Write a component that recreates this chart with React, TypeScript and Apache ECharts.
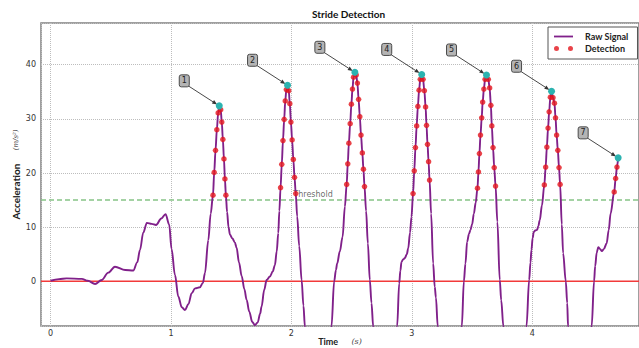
import React, { useEffect, useRef } from "react";
import * as echarts from "echarts";

// Raw acceleration signal: [time (s), acceleration (m/s^2)]
const rawSignal: [number, number][] = [
  [0.0, 0.1], [0.07, 0.4], [0.134, 0.55], [0.26, 0.45], [0.31, 0.1], [0.37, -0.5], [0.425, 0.24],
  [0.48, 1.6], [0.535, 2.7], [0.62, 2.1], [0.687, 2.0], [0.72, 3.5], [0.743, 5.8], [0.77, 9.0],
  [0.8, 10.8], [0.84, 10.6], [0.876, 10.4], [0.92, 11.6], [0.955, 12.4], [0.985, 10.5], [1.005, 6.0],
  [1.033, 1.2], [1.061, -2.8], [1.09, -4.8], [1.116, -5.3], [1.145, -4.2], [1.172, -2.2], [1.2, -1.3],
  [1.24, -1.1], [1.265, -0.3], [1.282, 1.5], [1.31, 7.6], [1.33, 12.5],
  // stride 1
  [1.349, 15.9], [1.359, 20.1], [1.37, 24.2], [1.381, 28.0], [1.392, 31.1], [1.401, 32.4],
  [1.413, 31.7], [1.422, 29.4], [1.431, 26.2], [1.44, 22.6], [1.448, 18.9], [1.456, 15.9],
  [1.466, 12.8], [1.478, 10.0], [1.49, 8.6], [1.51, 7.9], [1.53, 7.2], [1.545, 6.2], [1.565, 3.5],
  [1.587, 1.0], [1.61, -1.5], [1.628, -3.4], [1.65, -5.6], [1.675, -7.5], [1.697, -8.1], [1.72, -7.6],
  [1.74, -6.0], [1.752, -4.7], [1.775, -1.5], [1.794, 0.24], [1.822, 0.9], [1.845, 1.8], [1.863, 3.0],
  [1.878, 5.5], [1.891, 8.9], [1.9, 13.0],
  // stride 2
  [1.91, 17.3], [1.92, 21.6], [1.93, 26.0], [1.94, 29.9], [1.949, 33.3], [1.958, 35.4], [1.968, 36.2],
  [1.978, 35.2], [1.987, 32.8], [1.996, 29.4], [2.006, 26.1], [2.016, 22.5], [2.026, 19.2], [2.036, 16.2],
  [2.048, 12.0], [2.065, 6.5], [2.085, 0.2], [2.1, -4.5], [2.112, -8.3], [2.13, -13.0], [2.22, -17.0],
  [2.31, -15.0], [2.333, -8.25], [2.355, 0.0], [2.37, 2.1], [2.38, 3.3], [2.402, 5.5], [2.425, 8.2],
  [2.444, 13.8],
  // stride 3
  [2.459, 17.9], [2.468, 21.7], [2.477, 25.5], [2.488, 29.1], [2.498, 32.7], [2.507, 35.5], [2.516, 37.7],
  [2.527, 38.6], [2.538, 38.1], [2.548, 36.6], [2.558, 33.6], [2.568, 30.4], [2.578, 27.0], [2.589, 23.7],
  [2.598, 20.7], [2.607, 17.5],
  [2.62, 13.0], [2.635, 7.0], [2.651, 0.24], [2.665, -4.0], [2.679, -8.3], [2.7, -14.0], [2.8, -18.0],
  [2.86, -14.0], [2.878, -8.25], [2.895, -0.4], [2.905, 2.0], [2.914, 3.6], [2.93, 4.1], [2.942, 4.3],
  [2.958, 5.0], [2.97, 6.1], [2.985, 9.0], [2.997, 11.9],
  // stride 4
  [3.01, 16.2], [3.02, 20.4], [3.03, 24.7], [3.04, 28.7], [3.05, 32.3], [3.06, 35.3], [3.07, 37.3],
  [3.082, 38.2], [3.093, 37.3], [3.104, 35.2], [3.114, 32.2], [3.122, 28.8], [3.13, 25.3], [3.139, 22.1],
  [3.147, 18.7],
  [3.16, 12.5], [3.177, 3.3], [3.19, -1.0], [3.2, -3.0], [3.215, -8.3], [3.24, -15.0], [3.33, -18.0],
  [3.39, -14.0], [3.415, -8.25], [3.432, 0.0], [3.445, 3.3], [3.459, 7.3], [3.475, 8.8], [3.487, 9.5],
  [3.5, 10.5], [3.515, 12.5], [3.53, 14.5],
  // stride 5
  [3.545, 17.2], [3.553, 20.2], [3.561, 23.6], [3.57, 27.0], [3.58, 30.2], [3.588, 33.1], [3.598, 35.5],
  [3.608, 37.3], [3.62, 38.1], [3.635, 37.3], [3.646, 35.7], [3.656, 32.5], [3.664, 28.7], [3.674, 24.7],
  [3.684, 21.0], [3.695, 17.6],
  [3.71, 11.0], [3.73, 0.24], [3.742, -3.5], [3.76, -8.3], [3.78, -15.0], [3.87, -18.0], [3.93, -14.0],
  [3.952, -8.25], [3.974, 0.24], [3.985, 3.5], [3.993, 5.8], [4.003, 8.0], [4.012, 9.1], [4.025, 9.4],
  [4.04, 9.5], [4.05, 10.2], [4.062, 11.3], [4.08, 14.0],
  // stride 6
  [4.1, 17.8], [4.111, 21.1], [4.121, 24.8], [4.131, 28.3], [4.14, 31.3], [4.15, 34.0], [4.16, 35.1],
  [4.172, 33.9], [4.184, 32.9], [4.193, 30.2], [4.202, 27.0], [4.212, 24.2], [4.222, 21.0], [4.231, 17.9],
  [4.245, 10.5], [4.256, 5.2], [4.278, 0.0], [4.29, -4.0], [4.297, -8.3], [4.32, -15.0], [4.41, -18.0],
  [4.47, -14.0], [4.493, -8.25], [4.513, 0.0], [4.522, 2.8], [4.535, 5.3], [4.548, 6.3], [4.562, 6.0],
  [4.578, 5.6], [4.595, 6.0], [4.617, 7.0], [4.635, 9.5], [4.65, 12.5],
  // stride 7
  [4.68, 16.5], [4.692, 19.0], [4.703, 21.1], [4.713, 22.8],
];

const THRESHOLD = 15;
const ZERO_LEVEL = 0;
const peakLabels = ["1", "2", "3", "4", "5", "6", "7"];
const xRange = [-0.079, 4.886];
const yRange = [-8.25, 47.7];

// Detection: all samples above threshold; peaks: max of each run above threshold
const detection = rawSignal.filter((p) => p[1] > THRESHOLD);
const peaks: [number, number][] = [];
{
  let best: [number, number] | null = null;
  for (const p of rawSignal) {
    if (p[1] > THRESHOLD) {
      if (!best || p[1] > best[1]) best = p;
    } else if (best) {
      peaks.push(best);
      best = null;
    }
  }
  if (best) peaks.push(best);
}
// horizontal reference lines spanning the whole x range
const zeroLine = xRange.map((x) => [x, ZERO_LEVEL]);
const thresholdLine = xRange.map((x) => [x, THRESHOLD]);

const PURPLE = "#80208a";
const RED = "#e3141b";
const TEAL = "#2bb3b0";
const ZERO_RED = "#f23a3a";

export default function App() {
  const ref = useRef<HTMLDivElement>(null);
  useEffect(() => {
    if (!ref.current) return;
    const chart = echarts.init(ref.current, null, { renderer: "svg" });
    chart.setOption({
      animation: false,
      backgroundColor: "#fff",
      title: {
        text: "Stride Detection",
        left: 307,
        top: 4,
        textStyle: { fontFamily: "Lato", fontWeight: "bold", fontSize: 10, color: "#111" },
      },
      legend: {
        orient: "vertical",
        left: 548,
        top: 27,
        padding: [5, 9, 6, 6],
        itemGap: 3,
        itemWidth: 19,
        itemHeight: 6,
        symbolKeepAspect: true,
        borderColor: "#555",
        borderWidth: 1,
        backgroundColor: "#fff",
        textStyle: { fontFamily: "Lato", fontWeight: "bold", fontSize: 9, color: "#222", padding: [0, 0, 0, 7] },
        data: [
          { name: "Raw Signal", icon: "path://M0,0h19v1.8h-19z", itemStyle: { color: PURPLE } },
          { name: "Detection", icon: "path://M0,2.5a2.5,2.5 0 1,0 5,0a2.5,2.5 0 1,0 -5,0zM14,2.5a2.5,2.5 0 1,0 5,0a2.5,2.5 0 1,0 -5,0z" },
        ],
      },
      grid: {
        left: 41,
        top: 23,
        right: 0,
        bottom: 22,
        show: true,
        borderColor: "#808080",
        borderWidth: 1.5,
        outerBoundsMode: "none",
      },
      xAxis: {
        type: "value",
        min: xRange[0],
        max: xRange[1],
        name: "{b|Time}    {i|(s)}",
        nameLocation: "middle",
        nameGap: 9,
        nameMoveOverlap: false,
        nameTextStyle: {
          rich: {
            b: { fontFamily: "Lato", fontWeight: "bold", fontSize: 9, color: "#222" },
            i: { fontFamily: "DejaVu Serif", fontStyle: "italic", fontSize: 8, color: "#444" },
          },
        },
        axisLine: { show: false, onZero: false, lineStyle: { color: "rgba(0,0,0,0)" } },
        axisTick: { show: false },
        axisLabel: {
          showMinLabel: false,
          showMaxLabel: false,
          margin: 3,
          fontFamily: "DejaVu Sans",
          fontSize: 8,
          color: "#333",
        },
        splitLine: { show: true, lineStyle: { type: "dotted", color: "#bdbdbd", width: 1 } },
      },
      yAxis: {
        type: "value",
        min: yRange[0],
        max: yRange[1],
        name: "{b|Acceleration}    {u|(m/s²)}",
        nameLocation: "middle",
        nameGap: 19,
        nameMoveOverlap: false,
        nameTextStyle: {
          rich: {
            b: { fontFamily: "Lato", fontWeight: "bold", fontSize: 10, color: "#222" },
            u: { fontFamily: "DejaVu Serif", fontStyle: "italic", fontSize: 7, color: "#444" },
          },
        },
        axisLine: { show: false, onZero: false, lineStyle: { color: "rgba(0,0,0,0)" } },
        axisTick: { show: false },
        axisLabel: {
          showMinLabel: false,
          showMaxLabel: false,
          margin: 5,
          fontFamily: "DejaVu Sans",
          fontSize: 8,
          color: "#333",
        },
        splitLine: { show: true, lineStyle: { type: "dotted", color: "#bdbdbd", width: 1 } },
      },
      series: [
        {
          name: "zeroLine",
          type: "line",
          data: zeroLine,
          symbol: "none",
          silent: true,
          lineStyle: { color: ZERO_RED, width: 1.4, type: "solid" },
          itemStyle: { color: ZERO_RED },
          z: 2,
        },
        {
          name: "thresholdLine",
          type: "line",
          data: thresholdLine,
          symbol: "none",
          silent: true,
          lineStyle: { color: "#86c486", width: 1.5, type: [5, 3] },
          itemStyle: { color: "#86c486" },
          z: 2,
        },
        {
          name: "Raw Signal",
          type: "line",
          data: rawSignal,
          symbol: "none",
          smooth: 0.35,
          smoothMonotone: "x",
          clip: true,
          lineStyle: { color: PURPLE, width: 1.9 },
          itemStyle: { color: PURPLE },
          z: 3,
        },
        {
          name: "thresholdLabel",
          type: "scatter",
          data: [[2.18, THRESHOLD]],
          symbolSize: 1,
          itemStyle: { color: "rgba(0,0,0,0)" },
          silent: true,
          label: {
            show: true,
            position: "top",
            distance: 1,
            formatter: "Threshold",
            fontFamily: "DejaVu Sans",
            fontSize: 8,
            color: "#444",
          },
          z: 2,
        },
        {
          name: "Detection",
          type: "scatter",
          data: detection,
          symbol: "circle",
          symbolSize: 5.5,
          itemStyle: { color: RED },
          z: 4,
        },
        {
          name: "Peaks",
          type: "custom",
          data: peaks,
          encode: { x: 0, y: 1 },
          clip: false,
          z: 5,
          renderItem: (params: any, api: any) => {
            const p = api.coord([api.value(0), api.value(1)]);
            const bx = p[0] - 35;
            const by = p[1] - 25;
            const sx = bx + 4;
            const sy = by + 5;
            const dx = p[0] - sx;
            const dy = p[1] - sy;
            const len = Math.sqrt(dx * dx + dy * dy);
            const ux = dx / len;
            const uy = dy / len;
            const tip = [p[0] - ux * 2.5, p[1] - uy * 2.5];
            const base = [tip[0] - ux * 5, tip[1] - uy * 5];
            const b1 = [base[0] - uy * 2, base[1] + ux * 2];
            const b2 = [base[0] + uy * 2, base[1] - ux * 2];
            return {
              type: "group",
              children: [
                {
                  type: "line",
                  shape: { x1: sx, y1: sy, x2: base[0], y2: base[1] },
                  style: { stroke: "#333", lineWidth: 0.9 },
                },
                {
                  type: "polygon",
                  shape: { points: [tip, b1, b2] },
                  style: { fill: "#333" },
                },
                {
                  type: "rect",
                  shape: { x: bx - 5, y: by - 6, width: 10, height: 12, r: 2 },
                  style: { fill: "#b4b4b4", stroke: "#4a4a4a", lineWidth: 1 },
                },
                {
                  type: "text",
                  style: {
                    text: peakLabels[params.dataIndex],
                    x: bx,
                    y: by,
                    align: "center",
                    verticalAlign: "middle",
                    fontFamily: "DejaVu Sans",
                    fontSize: 8,
                    fill: "#222",
                  },
                },
                {
                  type: "circle",
                  shape: { cx: p[0], cy: p[1], r: 3.5 },
                  style: { fill: TEAL },
                },
              ],
            };
          },
        },
      ],
    });
    return () => chart.dispose();
  }, []);
  return (
    <div
      ref={ref}
      style={{ position: "fixed", left: 0, top: 0, width: 639, height: 348 }}
    />
  );
}
